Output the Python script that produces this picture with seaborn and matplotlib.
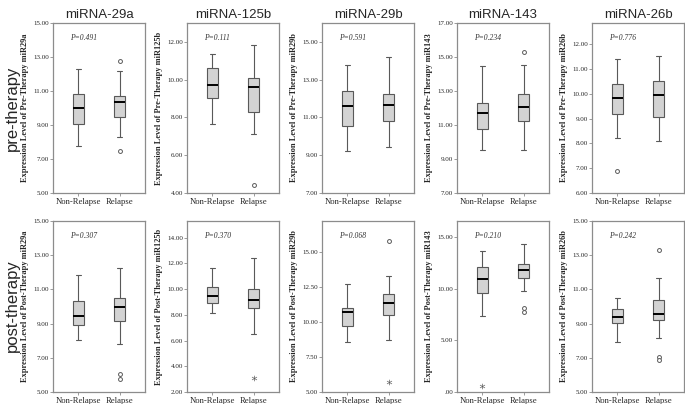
import numpy as np
import pandas as pd
import matplotlib
matplotlib.use('Agg')
import matplotlib.pyplot as plt
import seaborn as sns

# column titles / label names
titles = ['miRNA-29a', 'miRNA-125b', 'miRNA-29b', 'miRNA-143', 'miRNA-26b']
mirs = ['miR29a', 'miR125b', 'miR29b', 'miR143', 'miR26b']
groups = ['Non-Relapse', 'Relapse']

# five number summaries: [low whisker, Q1, median, Q3, high whisker]
pre_nonrelapse = [
    [7.76, 9.07, 9.98, 10.81, 12.30],
    [7.67, 9.02, 9.73, 10.62, 11.37],
    [9.23, 10.55, 11.58, 12.38, 13.78],
    [9.52, 10.79, 11.70, 12.28, 14.46],
    [8.20, 9.18, 9.84, 10.40, 11.41],
]
pre_relapse = [
    [8.29, 9.49, 10.37, 10.73, 12.15],
    [7.12, 8.31, 9.59, 10.09, 11.83],
    [9.46, 10.82, 11.67, 12.26, 14.19],
    [9.52, 11.25, 12.03, 12.83, 14.55],
    [8.10, 9.06, 9.95, 10.50, 11.54],
]
post_nonrelapse = [
    [8.05, 8.92, 9.43, 10.30, 11.84],
    [8.12, 8.96, 9.50, 10.16, 11.61],
    [8.59, 9.69, 10.74, 10.96, 12.67],
    [7.42, 9.61, 10.98, 12.16, 13.73],
    [7.93, 9.02, 9.39, 9.88, 10.49],
]
post_relapse = [
    [7.78, 9.18, 9.96, 10.50, 12.27],
    [6.48, 8.51, 9.16, 10.05, 12.42],
    [8.74, 10.48, 11.36, 12.00, 13.29],
    [9.84, 11.08, 11.83, 12.45, 14.41],
    [8.16, 9.21, 9.55, 10.36, 11.68],
]

# outliers (circles) and extremes (asterisks): lists of (group, value)
pre_circles = [
    [('Relapse', 12.78), ('Relapse', 7.46)],
    [('Relapse', 4.42)],
    [],
    [('Relapse', 15.27)],
    [('Non-Relapse', 6.87)],
]
pre_stars = [[], [], [], [], []]
post_circles = [
    [('Relapse', 6.04), ('Relapse', 5.75)],
    [],
    [('Relapse', 15.74)],
    [('Relapse', 8.20), ('Relapse', 7.80)],
    [('Relapse', 13.29), ('Relapse', 7.05), ('Relapse', 6.85)],
]
post_stars = [
    [],
    [('Relapse', 3.07)],
    [('Relapse', 5.70)],
    [('Non-Relapse', 0.56)],
    [],
]

pre_p = ['0.491', '0.111', '0.591', '0.234', '0.776']
post_p = ['0.307', '0.370', '0.068', '0.210', '0.242']

pre_ylim = [(5, 15), (4, 13), (7, 16), (7, 17), (6, 12.85)]
pre_yticks = [[5, 7, 9, 11, 13, 15], [4, 6, 8, 10, 12], [7, 9, 11, 13, 15],
              [7, 9, 11, 13, 15, 17], [6, 7, 8, 9, 10, 11, 12]]
post_ylim = [(5, 15), (2, 15.3), (5, 17.2), (0, 16.6), (5, 15)]
post_yticks = [[5, 7, 9, 11, 13, 15], [2, 4, 6, 8, 10, 12, 14], [5, 7.5, 10, 12.5, 15],
               [0, 5, 10, 15], [5, 7, 9, 11, 13, 15]]

sns.set_style('ticks')
plt.rcParams['font.family'] = ['Liberation Serif', 'DejaVu Serif']

fig = plt.figure(figsize=(6.85, 4.04), dpi=100)

lefts = [53, 187, 322, 457, 592]
width = 92
rows = [
    ('Pre', 23, 193, pre_nonrelapse, pre_relapse, pre_circles, pre_stars, pre_p, pre_ylim, pre_yticks),
    ('Post', 221, 392, post_nonrelapse, post_relapse, post_circles, post_stars, post_p, post_ylim, post_yticks),
]

frame_col = '#8c8c8c'
line_col = '#595959'

for r, (phase, top, bottom, nonrel, rel, circ, stars, pvals, ylims, yticks) in enumerate(rows):
    for c in range(5):
        ax = fig.add_axes([lefts[c] / 685, 1 - bottom / 404, width / 685, (bottom - top) / 404])
        box_df = pd.DataFrame({
            'group': ['Non-Relapse'] * 5 + ['Relapse'] * 5,
            'value': nonrel[c] + rel[c],
        })
        sns.boxplot(data=box_df, x='group', y='value', order=groups, ax=ax,
                    whis=(0, 100), width=0.26, color='#d3d3d3', linecolor=line_col,
                    linewidth=0.8, fliersize=0, saturation=1,
                    medianprops={'color': 'black', 'linewidth': 1.4})
        if circ[c]:
            cdf = pd.DataFrame(circ[c], columns=['group', 'value'])
            sns.stripplot(data=cdf, x='group', y='value', order=groups, ax=ax,
                          jitter=False, marker='o', size=2.8, color='white',
                          edgecolor=line_col, linewidth=0.7)
        if stars[c]:
            sdf = pd.DataFrame(stars[c], columns=['group', 'value'])
            sns.stripplot(data=sdf, x='group', y='value', order=groups, ax=ax,
                          jitter=False, marker='$*$', size=4, color=line_col, linewidth=0)

        ax.set_xlim(-0.62, 1.62)
        ax.set_ylim(*ylims[c])
        ax.set_yticks(yticks[c])
        ax.set_yticklabels(['.00' if t == 0 else f'{t:.2f}' for t in yticks[c]])
        ax.tick_params(axis='y', labelsize=5, length=2, width=0.6, color=frame_col, pad=1)
        ax.tick_params(axis='x', labelsize=6.2, length=2, width=0.6, color=frame_col, pad=1.5)
        for s in ax.spines.values():
            s.set_color(frame_col)
            s.set_linewidth(0.9)
        ax.set_xlabel('')
        ax.set_ylabel(f'Expression Level of {phase}-Therapy {mirs[c]}',
                      fontsize=6, fontweight='bold', labelpad=3)
        ax.text(0.18, 0.91, f'P={pvals[c]}', transform=ax.transAxes,
                fontsize=5.5, style='italic', color='#333333', va='center')

        if r == 0:
            fig.text((lefts[c] + width / 2) / 685, 1 - 15 / 404, titles[c],
                     ha='center', va='center', fontsize=9.5, family=['Liberation Sans', 'DejaVu Sans'])

fig.text(12 / 685, 1 - 108 / 404, 'pre-therapy', rotation=90, ha='center', va='center',
         fontsize=12, family=['Liberation Sans', 'DejaVu Sans'])
fig.text(12 / 685, 1 - 306 / 404, 'post-therapy', rotation=90, ha='center', va='center',
         fontsize=12, family=['Liberation Sans', 'DejaVu Sans'])

plt.savefig('out.png', dpi=100)
